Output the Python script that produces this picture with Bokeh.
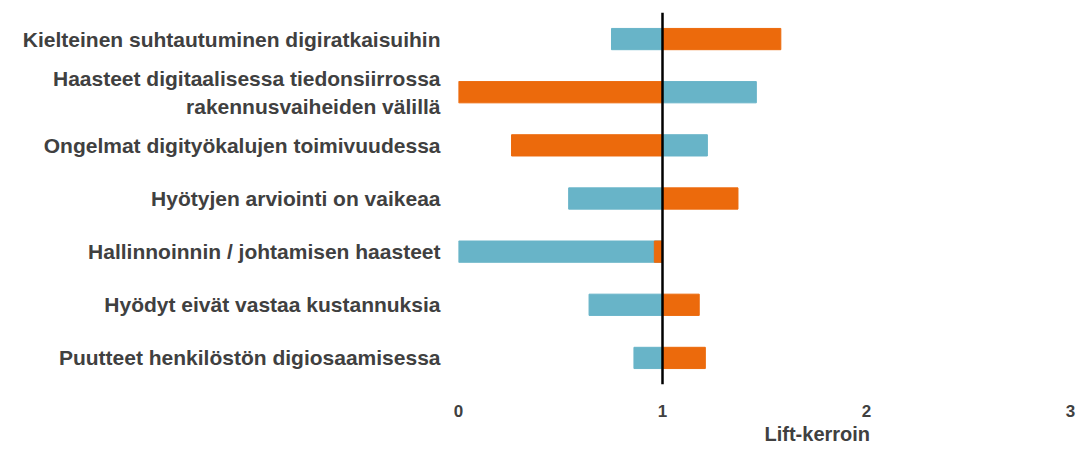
from bokeh.plotting import figure
from bokeh.models import ColumnDataSource, Span, Title
from bokeh.embed import file_html
from bokeh.resources import INLINE

categories = [
    "Kielteinen suhtautuminen digiratkaisuihin",
    "Haasteet digitaalisessa tiedonsiirrossa\nrakennusvaiheiden välillä",
    "Ongelmat digityökalujen toimivuudessa",
    "Hyötyjen arviointi on vaikeaa",
    "Hallinnoinnin / johtamisen haasteet",
    "Hyödyt eivät vastaa kustannuksia",
    "Puutteet henkilöstön digiosaamisessa",
]
blue_values = [0.75, 1.46, 1.22, 0.54, 0.0, 0.64, 0.86]
orange_values = [1.58, 0.0, 0.26, 1.37, 0.96, 1.18, 1.21]
baseline = 1.0
x_ticks = [0, 1, 2, 3]
x_title = "Lift-kerroin"

BLUE = "#68B4C8"
ORANGE = "#EC6A0C"
TEXT = "#404040"
FONT = "Liberation Sans"

source = ColumnDataSource(dict(cat=categories, blue=blue_values, orange=orange_values))

p = figure(
    y_range=list(reversed(categories)),
    x_range=(0, 3),
    width=1079, height=450,
    min_border_left=458, min_border_right=9, min_border_top=12, min_border_bottom=66,
    output_backend="svg", toolbar_location=None,
)
p.outline_line_color = None
p.xgrid.visible = False
p.ygrid.visible = False

p.hbar(y="cat", left=baseline, right="blue", height=0.4, color=BLUE, source=source)
p.hbar(y="cat", left=baseline, right="orange", height=0.4, color=ORANGE, source=source)

p.add_layout(Span(location=baseline, dimension="height", line_color="black", line_width=2.5))

p.xaxis.ticker = x_ticks
p.xaxis.axis_line_color = None
p.xaxis.major_tick_line_color = None
p.xaxis.minor_tick_line_color = None
p.xaxis.major_label_text_font = FONT
p.xaxis.major_label_text_font_style = "bold"
p.xaxis.major_label_text_font_size = "17px"
p.xaxis.major_label_text_color = TEXT
p.xaxis.major_label_standoff = 14

p.yaxis.axis_line_color = None
p.yaxis.major_tick_line_color = None
p.yaxis.minor_tick_line_color = None
p.yaxis.major_label_text_font = FONT
p.yaxis.major_label_text_font_style = "bold"
p.yaxis.major_label_text_font_size = "21px"
p.yaxis.major_label_text_color = TEXT
p.yaxis.major_label_standoff = 12

p.add_layout(Title(
    text=x_title, align="left", offset=306, standoff=2,
    text_font=FONT, text_font_style="bold", text_font_size="20px", text_color=TEXT,
), "below")

open("out.html", "w").write(file_html(p, INLINE))
